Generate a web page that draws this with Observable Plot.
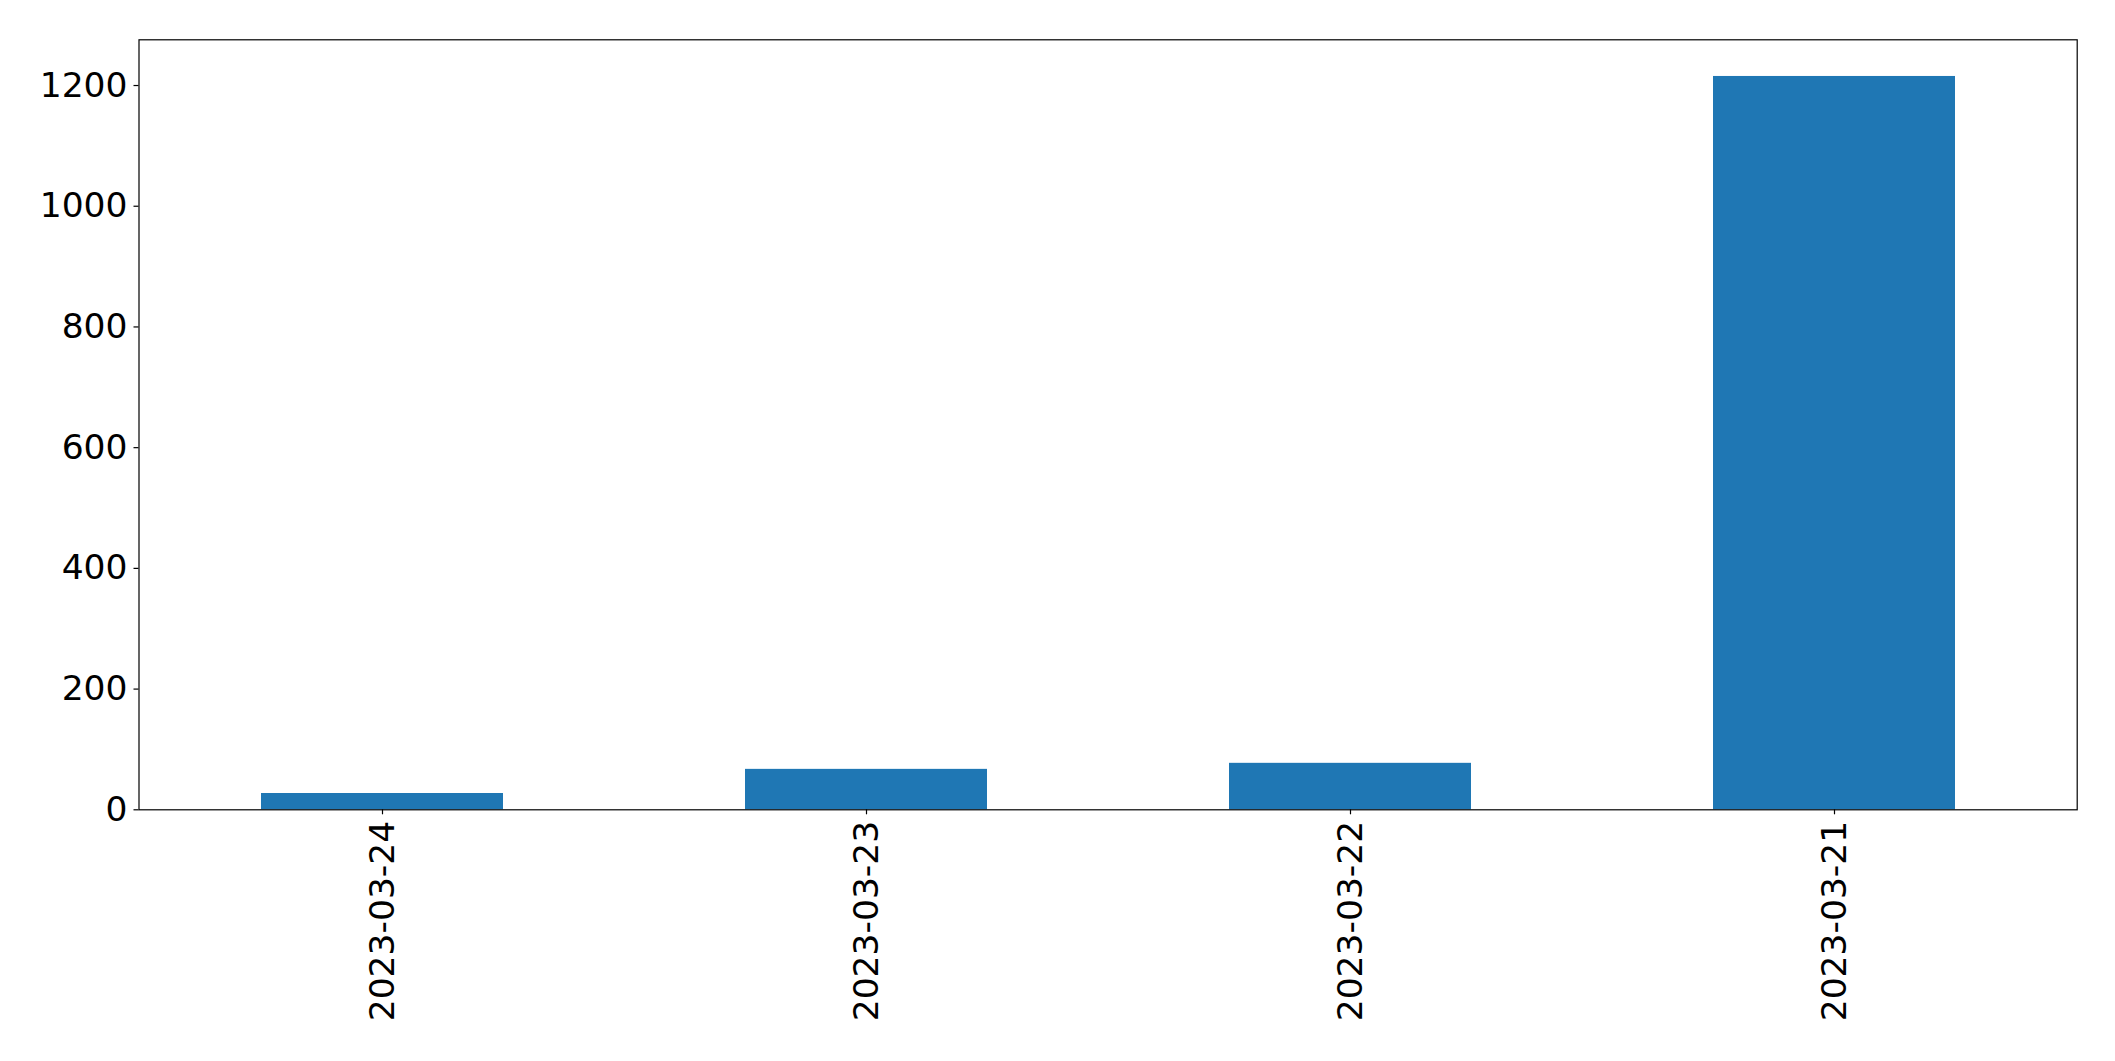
<!DOCTYPE html>
<html>
<head>
<meta charset="utf-8">
<script src="https://cdn.jsdelivr.net/npm/d3@7"></script>
<script src="https://cdn.jsdelivr.net/npm/@observablehq/plot@0.6"></script>
<style>
  html, body { margin: 0; padding: 0; background: #fff; }
  #chart svg { display: block; }
</style>
</head>
<body>
<div id="chart"></div>
<script>
const dates = ["2023-03-24", "2023-03-23", "2023-03-22", "2023-03-21"];
const counts = [27, 67, 77, 1215];
const yTicks = [0, 200, 400, 600, 800, 1000, 1200];

const data = dates.map((d, i) => ({date: d, count: counts[i]}));
const yMax = d3.max(counts) * 1.05;

const chart = Plot.plot({
  width: 2115,
  height: 1061,
  marginLeft: 138.5,
  marginRight: 38.3,
  marginTop: 39.3,
  marginBottom: 251.7,
  style: {fontFamily: "DejaVu Sans", fontSize: "34.5px", color: "black", background: "white"},
  x: {domain: dates, paddingInner: 0.5, paddingOuter: 0.25, label: null},
  y: {domain: [0, yMax], label: null},
  marks: [
    Plot.barY(data, {x: "date", y: "count", fill: "#1f77b4"}),
    Plot.frame({stroke: "black", strokeWidth: 1.2}),
    Plot.axisY({ticks: yTicks, tickSize: 5, tickPadding: 6.5, tickFormat: d => String(d), fontSize: 34.5, label: null, strokeWidth: 1.2}),
    Plot.axisX({tickSize: 5, tickPadding: 6, tickRotate: -90, fontSize: 34.5, label: null, strokeWidth: 1.2})
  ]
});
document.getElementById("chart").appendChild(chart);
</script>
</body>
</html>
